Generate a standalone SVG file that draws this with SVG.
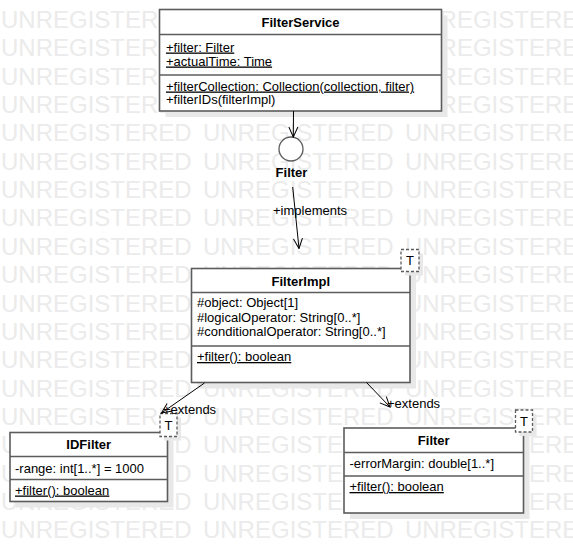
<svg xmlns="http://www.w3.org/2000/svg" width="573" height="553" viewBox="0 0 573 553">
<defs>
<style>
.wm{font-family:"Liberation Sans",Arial,sans-serif;font-size:24px;fill:#ebebeb;word-spacing:4.6px}
.t{font-family:"Liberation Sans",Arial,sans-serif;font-size:13px;fill:#000}
.b{font-weight:bold}
.m{text-anchor:middle}
.u{text-decoration:underline}
.box{fill:#fff;stroke:#5c5c5c;stroke-width:1.6}
.div{stroke:#5c5c5c;stroke-width:1.6}
.sh{fill:#e8e8e8}
.tb{fill:#fff;stroke:#5c5c5c;stroke-width:1.3;stroke-dasharray:3 2}
.ln{stroke:#000;stroke-width:1;fill:none}
</style>
<marker id="open" viewBox="0 0 12 12" markerWidth="12" markerHeight="12" refX="11" refY="6" orient="auto" markerUnits="userSpaceOnUse">
<path d="M1,1.5 L11,6 L1,10.5" fill="none" stroke="#000" stroke-width="1"/>
</marker>
</defs>
<rect width="573" height="553" fill="#fff"/>
<g id="watermark">
<text class="wm" x="1" y="28">UNREGISTERED UNREGISTERED UNREGISTERED</text>
<text class="wm" x="1" y="56.4">UNREGISTERED UNREGISTERED UNREGISTERED</text>
<text class="wm" x="1" y="84.7">UNREGISTERED UNREGISTERED UNREGISTERED</text>
<text class="wm" x="1" y="113">UNREGISTERED UNREGISTERED UNREGISTERED</text>
<text class="wm" x="1" y="141.4">UNREGISTERED UNREGISTERED UNREGISTERED</text>
<text class="wm" x="1" y="169.8">UNREGISTERED UNREGISTERED UNREGISTERED</text>
<text class="wm" x="1" y="198.1">UNREGISTERED UNREGISTERED UNREGISTERED</text>
<text class="wm" x="1" y="226.4">UNREGISTERED UNREGISTERED UNREGISTERED</text>
<text class="wm" x="1" y="254.8">UNREGISTERED UNREGISTERED UNREGISTERED</text>
<text class="wm" x="1" y="283.2">UNREGISTERED UNREGISTERED UNREGISTERED</text>
<text class="wm" x="1" y="311.5">UNREGISTERED UNREGISTERED UNREGISTERED</text>
<text class="wm" x="1" y="339.8">UNREGISTERED UNREGISTERED UNREGISTERED</text>
<text class="wm" x="1" y="368.2">UNREGISTERED UNREGISTERED UNREGISTERED</text>
<text class="wm" x="1" y="396.6">UNREGISTERED UNREGISTERED UNREGISTERED</text>
<text class="wm" x="1" y="424.9">UNREGISTERED UNREGISTERED UNREGISTERED</text>
<text class="wm" x="1" y="453.2">UNREGISTERED UNREGISTERED UNREGISTERED</text>
<text class="wm" x="1" y="481.6">UNREGISTERED UNREGISTERED UNREGISTERED</text>
<text class="wm" x="1" y="510">UNREGISTERED UNREGISTERED UNREGISTERED</text>
<text class="wm" x="1" y="538.3">UNREGISTERED UNREGISTERED UNREGISTERED</text>
</g>
<g id="FilterService">
<rect class="sh" x="165.5" y="15.5" width="282" height="101.5"/>
<rect class="box" x="159.5" y="9.5" width="282" height="101.5"/>
<line class="div" x1="159.5" y1="34.5" x2="441.5" y2="34.5"/>
<line class="div" x1="159.5" y1="75" x2="441.5" y2="75"/>
<text class="t b m" x="300.5" y="27">FilterService</text>
<text class="t u" x="166" y="51.5">+filter: Filter</text>
<text class="t u" x="166" y="65.5">+actualTime: Time</text>
<text class="t u" x="166" y="90.5">+filterCollection: Collection(collection, filter)</text>
<text class="t" x="166" y="104">+filterIDs(filterImpl)</text>
</g>
<g id="FilterInterface">
<circle cx="291" cy="149" r="12" fill="#fff" stroke="#5c5c5c" stroke-width="1.3"/>
<text class="t b m" x="291.5" y="177">Filter</text>
</g>
<g id="FilterImpl">
<rect class="sh" x="197.5" y="274.5" width="218.5" height="114"/>
<rect class="box" x="191.5" y="268.5" width="218.5" height="114"/>
<line class="div" x1="191.5" y1="292.5" x2="410" y2="292.5"/>
<line class="div" x1="191.5" y1="346" x2="410" y2="346"/>
<text class="t b m" x="300.75" y="286">FilterImpl</text>
<text class="t" x="197" y="307">#object: Object[1]</text>
<text class="t" x="197" y="321.5">#logicalOperator: String[0..*]</text>
<text class="t" x="197" y="336">#conditionalOperator: String[0..*]</text>
<text class="t u" x="197" y="361">+filter(): boolean</text>
<rect class="sh" x="405" y="253.5" width="18" height="22"/>
<rect class="tb" x="401" y="249.5" width="18" height="22"/>
<text class="t m" x="410" y="265">T</text>
</g>
<g id="IDFilter">
<rect class="sh" x="16" y="438.5" width="157.5" height="69"/>
<rect class="box" x="10" y="432.5" width="157.5" height="69"/>
<line class="div" x1="10" y1="456.5" x2="167.5" y2="456.5"/>
<line class="div" x1="10" y1="479.5" x2="167.5" y2="479.5"/>
<text class="t b m" x="88.75" y="448.5">IDFilter</text>
<text class="t" x="15" y="472.5">-range: int[1..*] = 1000</text>
<text class="t u" x="15" y="494.5">+filter(): boolean</text>
<rect class="sh" x="164" y="417.5" width="17" height="23"/>
<rect class="tb" x="160" y="413.5" width="17" height="23"/>
<text class="t m" x="168.5" y="430">T</text>
</g>
<g id="FilterClass">
<rect class="sh" x="350" y="434" width="179.5" height="85"/>
<rect class="box" x="344" y="428" width="179.5" height="85"/>
<line class="div" x1="344" y1="452.5" x2="523.5" y2="452.5"/>
<line class="div" x1="344" y1="476" x2="523.5" y2="476"/>
<text class="t b m" x="433.75" y="444.5">Filter</text>
<text class="t" x="349.5" y="467.5">-errorMargin: double[1..*]</text>
<text class="t u" x="349.5" y="491">+filter(): boolean</text>
<rect class="sh" x="519.5" y="414" width="17" height="22"/>
<rect class="tb" x="515.5" y="410" width="17" height="22"/>
<text class="t m" x="524" y="426">T</text>
</g>
<g id="connectors">
<line class="ln" x1="293.5" y1="111" x2="293.3" y2="137" marker-end="url(#open)"/>
<line class="ln" x1="292.7" y1="187" x2="299" y2="248.5" marker-end="url(#open)"/>
<line class="ln" x1="204.5" y1="383" x2="161.5" y2="413" marker-end="url(#open)"/>
<line class="ln" x1="366.5" y1="382.5" x2="390" y2="407" marker-end="url(#open)"/>
<text class="t" x="273" y="215">+implements</text>
<text class="t" x="163" y="414">+extends</text>
<text class="t" x="387" y="407.5">+extends</text>
</g>
</svg>
